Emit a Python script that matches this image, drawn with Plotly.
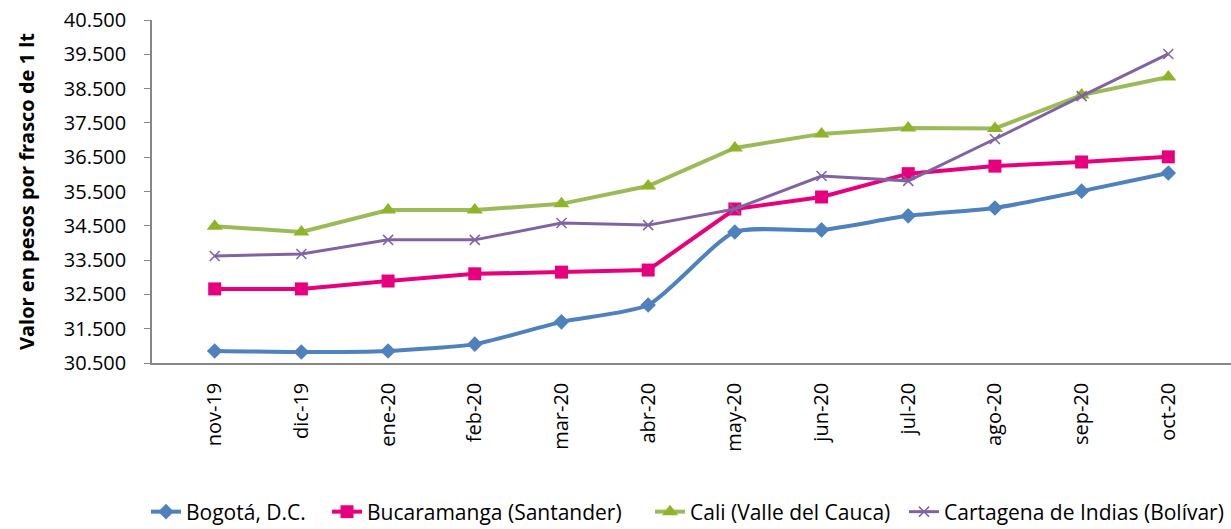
import plotly.graph_objects as go

categories = ["nov-19", "dic-19", "ene-20", "feb-20", "mar-20", "abr-20",
              "may-20", "jun-20", "jul-20", "ago-20", "sep-20", "oct-20"]

bogota = [30850, 30820, 30850, 31050, 31700, 32190, 34320, 34380, 34790, 35020, 35510, 36040]
bucaramanga = [32660, 32660, 32890, 33100, 33150, 33210, 34990, 35340, 36020, 36240, 36360, 36510]
cali = [34490, 34320, 34960, 34960, 35140, 35660, 36770, 37180, 37350, 37340, 38310, 38840]
cartagena = [33620, 33680, 34090, 34090, 34580, 34520, 34990, 35950, 35810, 37030, 38280, 39510]

y_ticks = [30500, 31500, 32500, 33500, 34500, 35500, 36500, 37500, 38500, 39500, 40500]

FONT = "Open Sans"
L, R, T, B = 152, 0, 20, 166
W, H = 1231, 529
PW = W - L - R

# legend entry left edges (px)
legend_px = [146, 327, 650, 904]

fig = go.Figure()
fig.add_trace(go.Scatter(
    x=categories, y=bogota, name="Bogotá, D.C.", mode="lines+markers",
    line=dict(color="#4F81BD", width=4, shape="spline", smoothing=0.6),
    marker=dict(symbol="diamond", size=12, color="#4F81BD"), legend="legend"))
fig.add_trace(go.Scatter(
    x=categories, y=bucaramanga, name="Bucaramanga (Santander)", mode="lines+markers",
    line=dict(color="#E6007E", width=4),
    marker=dict(symbol="square", size=13, color="#E6007E"), legend="legend2"))
fig.add_trace(go.Scatter(
    x=categories, y=cali, name="Cali (Valle del Cauca)", mode="lines+markers",
    line=dict(color="#9BBB59", width=4),
    marker=dict(symbol="triangle-up", size=14, color="#8DB527"), legend="legend3"))
fig.add_trace(go.Scatter(
    x=categories, y=cartagena, name="Cartagena de Indias (Bolívar)", mode="lines+markers",
    line=dict(color="#8064A2", width=3),
    marker=dict(symbol="x-thin-open", size=10, color="#8064A2",
                line=dict(width=1.5, color="#8064A2")), legend="legend4"))

legend_y = 1 - 512 / H

def leg(px):
    return dict(orientation="h", x=(px - L) / PW, xanchor="left",
                yref="container", y=legend_y, yanchor="middle",
                font=dict(family=FONT, size=21, color="#000000"),
                itemwidth=30, bgcolor="rgba(0,0,0,0)")

fig.update_layout(
    width=W, height=H,
    margin=dict(l=L, r=R, t=T, b=B),
    paper_bgcolor="white", plot_bgcolor="white",
    separators=",.",
    font=dict(family=FONT, size=20, color="#000000"),
    showlegend=True,
    legend=leg(legend_px[0]),
    legend2=leg(legend_px[1]),
    legend3=leg(legend_px[2]),
    legend4=leg(legend_px[3]),
    xaxis=dict(
        type="category", tickangle=-90, showgrid=False, automargin=False,
        showline=True, linecolor="#868686", linewidth=1.5,
        ticks="", ticklabelstandoff=10, tickfont=dict(family=FONT, size=20)),
    yaxis=dict(
        range=[30500, 40500], tickvals=y_ticks, tickformat=",d",
        showgrid=False, zeroline=False, automargin=False,
        showline=True, linecolor="#868686", linewidth=1.5,
        ticks="outside", ticklen=6, tickcolor="#868686",
        ticklabelstandoff=14,
        tickfont=dict(family=FONT, size=20),
        title=dict(text="<b>Valor en pesos por frasco de 1 lt</b>",
                   font=dict(family=FONT, size=20), standoff=24)),
)

fig.write_html("out.html", config={"displayModeBar": False},
               post_script="document.body.style.margin='0';")
